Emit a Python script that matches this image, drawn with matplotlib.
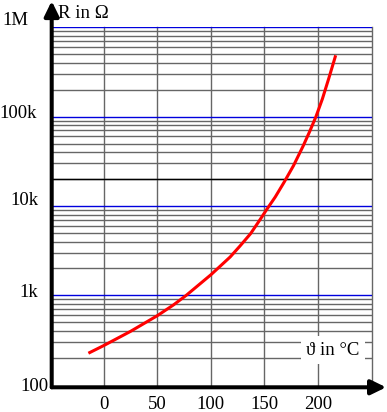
import matplotlib
matplotlib.use('Agg')
import matplotlib.pyplot as plt
from matplotlib.ticker import NullLocator

plt.rcParams['font.family'] = ['Liberation Serif', 'DejaVu Serif']
plt.rcParams['font.size'] = 13.5

# Kennlinie: Temperatur in °C, Widerstand in Ohm
temp_c = [-13, 0, 25, 50, 65, 77, 100, 118, 127, 137, 146, 152, 160, 168, 177, 186, 192,
          198, 204, 210, 216]
resistance = [229, 274, 395, 592, 780, 1000, 1700, 2690, 3550, 4900, 7080, 9120, 12600,
              18200, 28200, 46800, 67600, 100000, 158000, 269000, 468000]

x_ticks = [0, 50, 100, 150, 200, 250]
x_labels = ['0', '50', '100', '150', '200', '']
y_decades = [100, 1000, 10000, 100000, 1000000]
y_labels = ['100', '1k', '10k', '100k', '1M']

# Versatz der y-Beschriftungen in Punkten (dx, dy)
y_label_offset = [(-2.4, -1), (-9.6, 2.4), (-9.6, 4.3), (-10.4, 2.2), (-17, 5)]

grau = '#666666'
blau = '#0000dd'

fig = plt.figure(figsize=(3.87, 4.12), dpi=100)
ax = fig.add_axes([51.7/387, (412-387.3)/412, 320/387, 360/412])
ax.set_yscale('log')
ax.set_xlim(-48.5, 250)
ax.set_ylim(93.5, 1e6)

# Gitter
for dec in y_decades[:-1]:
    for m in range(2, 10):
        ax.axhline(m*dec, color=grau, lw=1.0, zorder=1)
for v in y_decades[1:]:
    ax.axhline(v, color=blau, lw=1.0, zorder=1.5)
ax.axhline(20000, color='black', lw=1.0, zorder=1.5)
for t in x_ticks:
    ax.axvline(t, color=grau, lw=1.0, zorder=1, clip_on=False)

ax.plot(temp_c, resistance, color='red', lw=2.2, zorder=3)

for s in ax.spines.values():
    s.set_visible(False)

ax.yaxis.set_major_locator(NullLocator())
ax.yaxis.set_minor_locator(NullLocator())
ax.set_xticks(x_ticks, x_labels)
ax.tick_params(axis='x', length=0, pad=6.5)

for v, lab, (dx, dy) in zip(y_decades, y_labels, y_label_offset):
    ax.annotate(lab, xy=(0, v), xycoords=('axes fraction', 'data'),
                xytext=(dx, dy), textcoords='offset points', ha='right', va='center')

# Achsen mit Pfeilen
pfeil = dict(arrowstyle='-|>,head_length=0.45,head_width=0.22', lw=2.9, color='black',
             shrinkA=0, shrinkB=0, mutation_scale=20)
ax.annotate('', xy=(1.045, 0), xytext=(0, 0), xycoords='axes fraction',
            arrowprops=pfeil, annotation_clip=False, zorder=5)
ax.annotate('', xy=(0, 1.073), xytext=(0, 0), xycoords='axes fraction',
            arrowprops=pfeil, annotation_clip=False, zorder=5)

ax.text(0.02, 1.038, 'R in Ω', transform=ax.transAxes, ha='left', va='center')
ax.text(0.879, 0.1036, 'ϑ in °C', transform=ax.transAxes, ha='center', va='center', zorder=4,
        bbox=dict(boxstyle='square,pad=0.3', fc='white', ec='none'))

fig.savefig('out.png', dpi=100)
